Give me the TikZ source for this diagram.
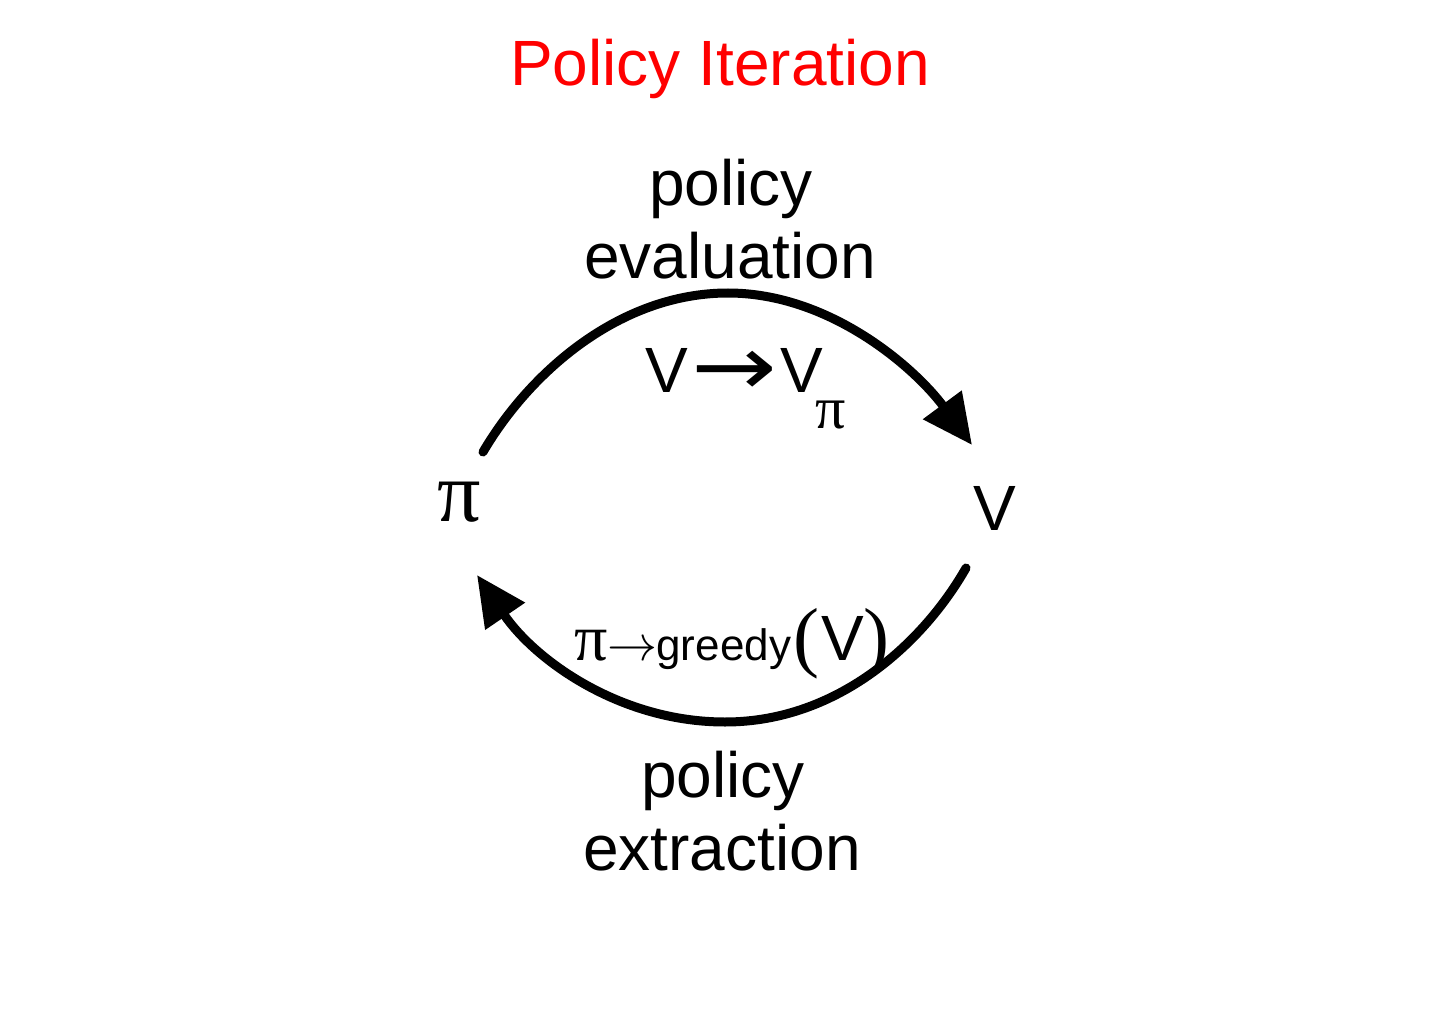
\documentclass[tikz,border=0pt]{standalone}
\usepackage{fix-cm}
\usepackage{fontspec}
\setmainfont{Liberation Sans}
\newfontfamily\seriffont{Liberation Serif}
\newfontfamily\dejavu{DejaVu Sans}
\usetikzlibrary{arrows.meta}
\tikzset{
  conn/.style={line width=9pt, line cap=round, -{Triangle[length=50pt,width=46pt]}},
  big/.style={font=\fontsize{64}{73}\selectfont, inner sep=0pt},
  title/.style={font=\fontsize{64}{70}\selectfont, text=red, inner sep=0pt},
}
\begin{document}
\begin{tikzpicture}[x=1pt,y=-1pt]
\useasboundingbox (0,0) rectangle (1440,1024);
\node[title, anchor=base] (title) at (720,86) {Policy Iteration};
% state nodes
\node[inner sep=0pt, anchor=base, font=\seriffont\fontsize{86}{86}\selectfont] (pi) at (459,521) {π};
\node[big, anchor=base] (V) at (995,530) {V};
% labels
\node[big, anchor=base] (evalA) at (731,206) {policy};
\node[big, anchor=base] (evalB) at (730,279) {evaluation};
\node[big, anchor=base] (extrA) at (723,797) {policy};
\node[big, anchor=base] (extrB) at (722,870) {extraction};
\node[big, anchor=base west] (evallbl) at (645,392)
  {V\kern4pt\raisebox{-3pt}{\dejavu\fontsize{84}{84}\selectfont\scalebox{1.22}[1]{→}}\kern3pt V\kern-8pt\raisebox{-36pt}{\seriffont\fontsize{60}{60}\selectfont π}};
\node[inner sep=0pt, anchor=base west, font=\fontsize{44}{44}\selectfont] (extrlbl) at (574,660)
  {{\seriffont\fontsize{66}{66}\selectfont π}{\fontsize{50}{50}\selectfont$\rightarrow$}\kern-1pt greedy\kern2pt{\seriffont\fontsize{78}{78}\selectfont\raisebox{-2pt}{(}}\kern2pt{\fontsize{64}{64}\selectfont V}{\seriffont\fontsize{78}{78}\selectfont\raisebox{-2pt}{)}}};
% connector ends
\coordinate (evalS) at (483,452);
\coordinate (evalP) at (728,293);
\coordinate (evalE) at (972,445);
\coordinate (extrS) at (966,568);
\coordinate (extrP) at (725,722);
\coordinate (extrE) at (477,575);
\draw[conn] (evalS) .. controls (530,372) and (620,293) .. (evalP)
  .. controls (830,293) and (915,368) .. (evalE);
\draw[conn] (extrS) .. controls (925,640) and (840,722) .. (extrP)
  .. controls (620,722) and (535,660) .. (extrE);
\end{tikzpicture}
\end{document}
